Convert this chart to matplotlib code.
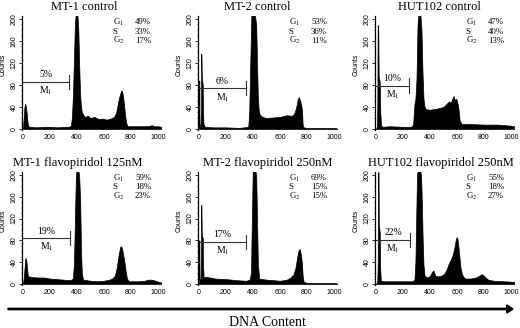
import numpy as np
import matplotlib
import matplotlib.pyplot as plt
from matplotlib.ticker import MultipleLocator

matplotlib.rcParams.update({
    "font.family": "Liberation Serif",
    "mathtext.fontset": "stix",
})

# channel / count
ch_mt1_ctrl = [0, 4, 10, 16, 22, 28, 34, 40, 50, 100, 150, 200, 250, 300, 340, 355, 362, 370, 378, 385,
               392, 398, 404, 410, 416, 422, 428, 435, 445, 460, 480, 500, 530, 560, 590, 620, 650, 675,
               690, 700, 710, 720, 728, 735, 742, 750, 758, 766, 775, 790, 850, 900, 940, 955, 970, 1000, 1023]
ct_mt1_ctrl = [0, 15, 38, 46, 40, 28, 12, 5, 4, 3, 4, 4, 3, 4, 4, 6, 20, 60, 130, 195,
               210, 210, 205, 180, 120, 70, 45, 32, 26, 22, 24, 20, 22, 18, 19, 17, 19, 22,
               30, 42, 55, 64, 70, 68, 58, 40, 22, 10, 5, 5, 5, 5, 6, 7, 5, 5, 4]

ch_mt2_ctrl = [0, 3, 4, 12, 15, 17, 19, 21, 22, 28, 30, 34, 45, 100, 200, 300, 365, 372, 380, 388,
               395, 405, 415, 424, 430, 436, 442, 450, 470, 500, 550, 600, 650, 690, 705, 715, 725,
               732, 740, 748, 756, 763, 768, 775, 800, 900, 1000, 1023]
ct_mt2_ctrl = [88, 88, 5, 8, 40, 137, 120, 95, 92, 80, 30, 8, 4, 3, 3, 2, 4, 30, 120, 205,
               210, 210, 205, 190, 120, 60, 35, 26, 22, 20, 21, 22, 25, 24, 28, 35, 45,
               55, 58, 52, 45, 35, 8, 3, 2, 2, 2, 1]

ch_hut_ctrl = [0, 8, 10, 13, 17, 20, 22, 28, 32, 38, 50, 100, 200, 260, 275, 285, 292, 300, 308, 315,
               322, 330, 337, 345, 352, 360, 370, 400, 450, 500, 520, 540, 555, 565, 575, 585, 595,
               605, 612, 620, 635, 700, 800, 900, 1000, 1023]
ct_hut_ctrl = [0, 5, 40, 189, 180, 95, 93, 85, 30, 6, 4, 5, 4, 4, 8, 45, 55, 90, 190, 210,
               210, 205, 180, 100, 55, 40, 36, 35, 37, 40, 45, 50, 48, 55, 60, 52, 55,
               45, 35, 15, 9, 9, 8, 8, 6, 5]

ch_mt1_fl = [0, 5, 12, 18, 24, 30, 36, 42, 60, 100, 150, 200, 250, 300, 350, 370, 378, 385, 392, 398,
             408, 416, 424, 430, 436, 445, 500, 550, 600, 640, 660, 680, 695, 705, 715, 722, 730,
             738, 745, 752, 760, 770, 785, 850, 900, 930, 950, 970, 990, 1023]
ct_mt1_fl = [0, 10, 30, 48, 45, 30, 15, 14, 13, 12, 12, 10, 9, 8, 7, 10, 40, 120, 200, 210,
             210, 200, 150, 60, 20, 8, 6, 5, 6, 8, 10, 15, 30, 48, 62, 69, 68,
             60, 50, 40, 25, 10, 5, 5, 6, 8, 8, 7, 5, 3]

ch_mt2_fl = [0, 3, 4, 12, 15, 17, 19, 21, 23, 28, 31, 35, 50, 80, 120, 200, 280, 350, 375, 385,
             392, 398, 405, 415, 424, 430, 436, 445, 500, 550, 600, 650, 680, 700, 715, 728, 738,
             746, 754, 762, 768, 775, 800, 900, 1000, 1023]
ct_mt2_fl = [80, 80, 8, 10, 60, 145, 120, 90, 88, 85, 30, 12, 13, 12, 10, 9, 7, 6, 8, 20,
             120, 205, 210, 210, 200, 120, 40, 10, 8, 7, 6, 8, 12, 18, 30, 50, 62,
             64, 55, 40, 15, 4, 2, 2, 2, 1]

ch_hut_fl = [0, 10, 13, 15, 19, 21, 23, 28, 31, 36, 60, 100, 200, 270, 285, 292, 298, 304, 310, 318,
             326, 334, 340, 346, 352, 360, 380, 400, 415, 425, 440, 460, 490, 510, 525, 540, 555,
             570, 582, 590, 597, 603, 610, 618, 626, 635, 645, 660, 700, 740, 770, 785, 800, 830,
             870, 950, 1023]
ct_hut_fl = [0, 5, 40, 205, 205, 110, 105, 95, 30, 6, 5, 5, 5, 5, 8, 40, 120, 200, 210, 210,
             210, 200, 150, 80, 35, 15, 12, 15, 22, 25, 15, 14, 16, 20, 28, 38, 45,
             55, 68, 80, 86, 84, 70, 50, 30, 20, 14, 10, 10, 12, 16, 18, 15, 8,
             6, 5, 4]

titles = ["MT-1 control", "MT-2 control", "HUT102 control",
          "MT-1 flavopiridol 125nM", "MT-2 flavopiridol 250nM", "HUT102 flavopiridol 250nM"]
g1_pct = ["49%", "53%", "47%", "59%", "69%", "55%"]
s_pct = ["33%", "36%", "40%", "18%", "15%", "18%"]
g2_pct = ["17%", "11%", "13%", "23%", "15%", "27%"]
m1_pct = ["5%", "6%", "10%", "19%", "17%", "22%"]
m1_end = [340, 345, 246, 345, 347, 255]
m1_level = [85, 74, 79, 84, 77, 81]

channels = [ch_mt1_ctrl, ch_mt2_ctrl, ch_hut_ctrl, ch_mt1_fl, ch_mt2_fl, ch_hut_fl]
counts = [ct_mt1_ctrl, ct_mt2_ctrl, ct_hut_ctrl, ct_mt1_fl, ct_mt2_fl, ct_hut_fl]

W, H = 520, 328
fig = plt.figure(figsize=(W / 100, H / 100), dpi=100)

lefts = [22.3, 198.3, 375.3]
row_bottom = [130.1, 285.1]
row_height = [113.9, 112.8]
title_x = [84, 257, 439, 78, 268, 441]
title_y = [6.5, 163]

sans = "Liberation Sans"
for i in range(6):
    r, c = divmod(i, 3)
    ax = fig.add_axes([lefts[c] / W, 1 - row_bottom[r] / H, 141.75 / W, row_height[r] / H])
    ch = np.array(channels[i])
    ct = np.array(counts[i])
    ax.fill_between(ch, ct, color="black", lw=0.5)
    ax.set_xlim(-5, 1045)
    ax.set_ylim(-2, 205)

    for s in ["top", "right", "bottom"]:
        ax.spines[s].set_visible(False)
    ax.spines["left"].set_linewidth(0.9)
    ax.xaxis.set_major_locator(MultipleLocator(200))
    ax.yaxis.set_major_locator(MultipleLocator(40))
    ax.yaxis.set_minor_locator(MultipleLocator(10))
    ax.tick_params(axis="both", labelsize=5, length=2, width=0.6, pad=1.5)
    ax.tick_params(axis="y", which="minor", length=1, width=0.5)
    ax.tick_params(axis="x", length=0, pad=2.5)
    for lab in ax.get_xticklabels() + ax.get_yticklabels():
        lab.set_fontfamily(sans)
    for lab in ax.get_yticklabels():
        lab.set_rotation(90)
        lab.set_va("center")
    ax.set_ylabel("Counts", fontsize=5, family=sans)
    ax.yaxis.set_label_coords(-0.112, 0.57)

    # M1 marker
    y0, x1 = m1_level[i], m1_end[i]
    ax.plot([0, x1], [y0, y0], color="#333333", lw=0.8)
    ax.plot([x1, x1], [y0 - 13, y0 + 13], color="#333333", lw=0.8)
    ax.text(x1 / 2, y0 + 5, m1_pct[i], fontsize=7, ha="center", va="bottom")
    ax.text(x1 / 2, y0 - 5, r"M$_1$", fontsize=7, ha="center", va="top")

    # cell cycle stats
    for row, (lab, val) in enumerate(zip([r"G$_1$", "S", r"G$_2$"], [g1_pct[i], s_pct[i], g2_pct[i]])):
        yy = 190 - 16.5 * row
        ax.text(665, yy, lab, fontsize=6.3, ha="left", va="baseline")
        ax.text(830, yy, val, fontsize=6.3, ha="left", va="baseline")

    fig.text(title_x[i] / W, 1 - title_y[r] / H, titles[i], fontsize=9, ha="center", va="center")

fig.patches.append(matplotlib.patches.FancyArrow(
    8 / W, 1 - 309 / H, 505 / W, 0, width=0.004, head_width=0.025, head_length=0.012,
    length_includes_head=True, color="black", transform=fig.transFigure, figure=fig))
fig.text(267 / W, 1 - 322 / H, "DNA Content", fontsize=10, ha="center", va="center")

fig.savefig("out.png", dpi=100)
